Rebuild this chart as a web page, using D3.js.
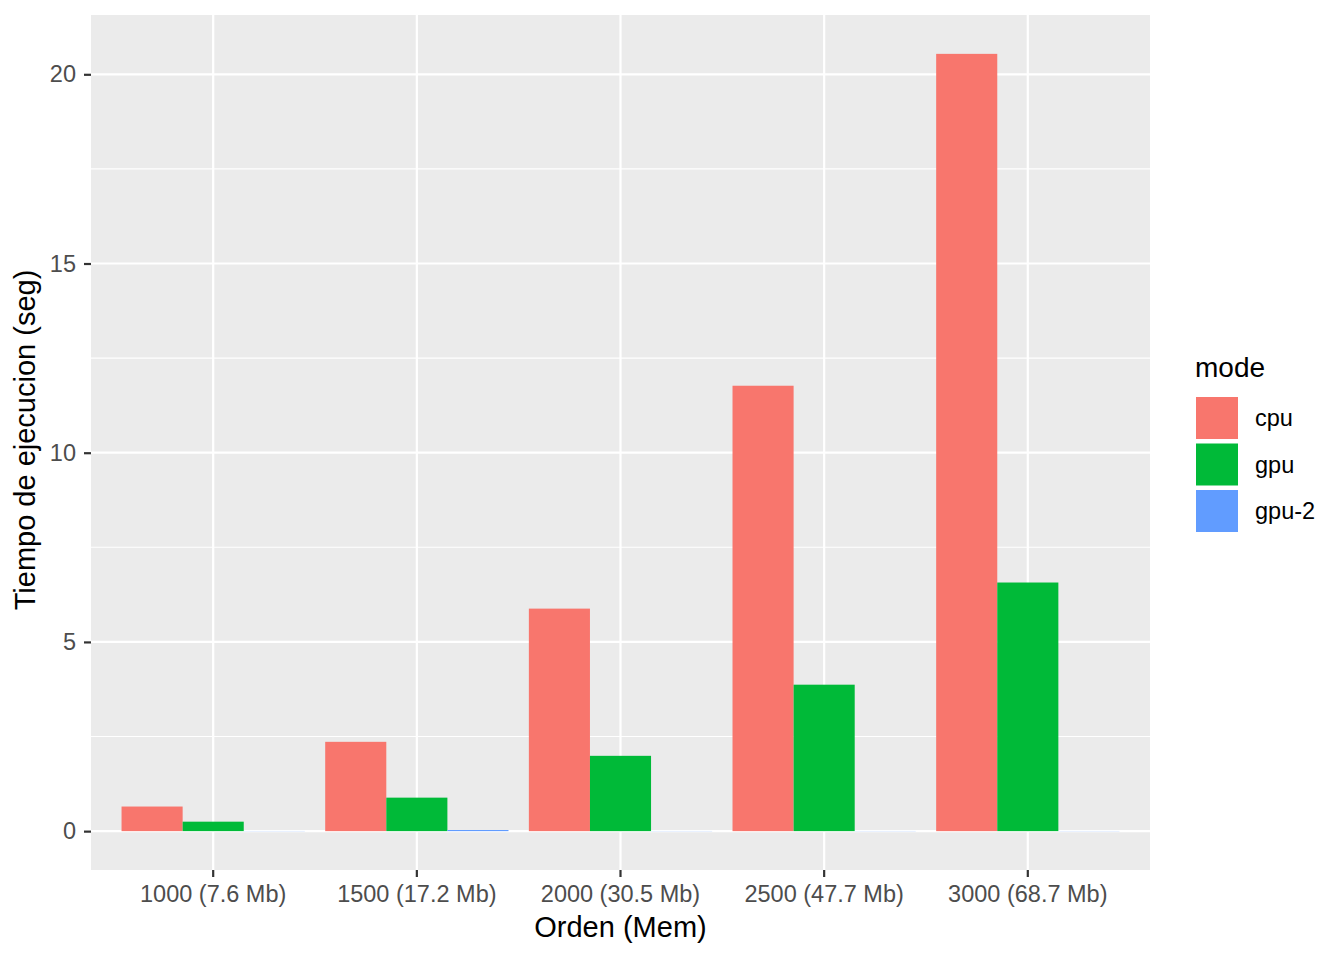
<!DOCTYPE html>
<html>
<head>
<meta charset="utf-8">
<script src="https://cdn.jsdelivr.net/npm/d3@7"></script>
<style>
  body { margin: 0; background: #fff; }
  svg text { font-family: "Liberation Sans", Arial, Helvetica, sans-serif; }
</style>
</head>
<body>
<svg id="chart"></svg>
<script>
// data
var categories = ["1000 (7.6 Mb)", "1500 (17.2 Mb)", "2000 (30.5 Mb)", "2500 (47.7 Mb)", "3000 (68.7 Mb)"];
var modes = ["cpu", "gpu", "gpu-2"];
var cpuValues = [0.65, 2.36, 5.88, 11.77, 20.54];
var gpuValues = [0.25, 0.885, 1.99, 3.87, 6.57];
var gpu2Values = [0.004, 0.03, 0.004, 0.004, 0.004];
var yTicks = [0, 5, 10, 15, 20];
var yMinor = [2.5, 7.5, 12.5, 17.5];

var width = 1344, height = 960;
var panel = {left: 91, right: 1150, top: 15, bottom: 870};

var svg = d3.select("svg#chart")
  .attr("width", width)
  .attr("height", height);

var rows = [];
categories.forEach(function(c, i) {
  rows.push({cat: c, mode: "cpu", value: cpuValues[i]});
  rows.push({cat: c, mode: "gpu", value: gpuValues[i]});
  rows.push({cat: c, mode: "gpu-2", value: gpu2Values[i]});
});

var color = d3.scaleOrdinal().domain(modes).range(["#F8766D", "#00BA38", "#619CFF"]);

var x = d3.scaleBand()
  .domain(categories)
  .range([panel.left, panel.right])
  .paddingInner(0.1)
  .paddingOuter(0.15);

var xSub = d3.scaleBand().domain(modes).range([0, x.bandwidth()]);

var maxV = d3.max(rows, d => d.value);
var y = d3.scaleLinear()
  .domain([-0.05 * maxV, 1.05 * maxV])
  .range([panel.bottom, panel.top]);

// panel background
svg.append("rect")
  .attr("x", panel.left).attr("y", panel.top)
  .attr("width", panel.right - panel.left)
  .attr("height", panel.bottom - panel.top)
  .attr("fill", "#EBEBEB");

var grid = svg.append("g");
grid.selectAll("line.minor")
  .data(yMinor).enter().append("line")
  .attr("class", "minor")
  .attr("x1", panel.left).attr("x2", panel.right)
  .attr("y1", d => y(d)).attr("y2", d => y(d))
  .attr("stroke", "#fff").attr("stroke-width", 1.1);
grid.selectAll("line.majory")
  .data(yTicks).enter().append("line")
  .attr("class", "majory")
  .attr("x1", panel.left).attr("x2", panel.right)
  .attr("y1", d => y(d)).attr("y2", d => y(d))
  .attr("stroke", "#fff").attr("stroke-width", 2.2);
grid.selectAll("line.majorx")
  .data(categories).enter().append("line")
  .attr("class", "majorx")
  .attr("x1", d => x(d) + x.bandwidth() / 2).attr("x2", d => x(d) + x.bandwidth() / 2)
  .attr("y1", panel.top).attr("y2", panel.bottom)
  .attr("stroke", "#fff").attr("stroke-width", 2.2);

// bars
svg.append("g").selectAll("rect")
  .data(rows).enter().append("rect")
  .attr("x", d => x(d.cat) + xSub(d.mode))
  .attr("width", xSub.bandwidth())
  .attr("y", d => y(d.value))
  .attr("height", d => y(0) - y(d.value))
  .attr("fill", d => color(d.mode));

// axes
var yAxis = svg.append("g")
  .attr("transform", translate(panel.left, 0))
  .call(d3.axisLeft(y).tickValues(yTicks).tickSize(7).tickPadding(8));
var xAxis = svg.append("g")
  .attr("transform", translate(0, panel.bottom))
  .call(d3.axisBottom(x).tickSize(7).tickPadding(8));

[yAxis, xAxis].forEach(function(a) {
  a.select(".domain").remove();
  a.selectAll(".tick line").attr("stroke", "#333").attr("stroke-width", 2.2);
  a.selectAll(".tick text")
    .attr("fill", "#4D4D4D")
    .style("font-size", "23.5px")
    .style("font-family", "'Liberation Sans', Arial, sans-serif");
});

// axis titles
svg.append("text")
  .attr("x", (panel.left + panel.right) / 2)
  .attr("y", 937)
  .attr("text-anchor", "middle")
  .style("font-size", "29px")
  .text("Orden (Mem)");

svg.append("text")
  .attr("transform", translate(35, 440) + " rotate(-90)")
  .attr("text-anchor", "middle")
  .style("font-size", "29px")
  .text("Tiempo de ejecucion (seg)");

// legend
var legend = svg.append("g").attr("transform", translate(1196, 0));
legend.append("text")
  .attr("x", -1).attr("y", 377)
  .style("font-size", "28px")
  .text("mode");
var keys = legend.selectAll("g.key")
  .data(modes).enter().append("g")
  .attr("class", "key")
  .attr("transform", (d, i) => translate(0, 397 + i * 46.5));
keys.append("rect")
  .attr("width", 42).attr("height", 42)
  .attr("fill", d => color(d));
keys.append("text")
  .attr("x", 59).attr("y", 21)
  .attr("dy", "0.35em")
  .style("font-size", "23.5px")
  .text(d => d);

function translate(a, b) {
  return 'translate(' + String(a) + ',' + String(b) + ')';
}
</script>
</body>
</html>
